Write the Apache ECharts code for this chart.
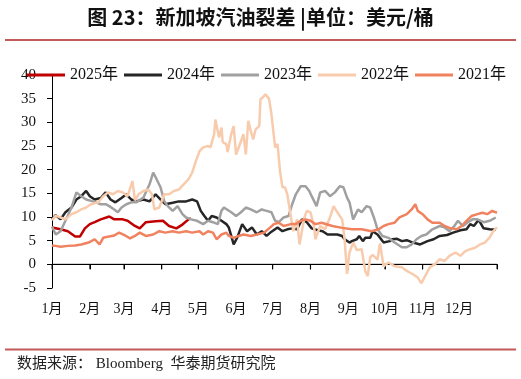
<!DOCTYPE html>
<html><head><meta charset="utf-8">
<script src="https://cdn.jsdelivr.net/npm/echarts@6/dist/echarts.min.js"></script>
<style>html,body{margin:0;padding:0;background:#fff}#c{width:521px;height:379px}</style>
</head><body><div id="c"></div>
<script>
// ---- data ----
const titleText = '图 23：新加坡汽油裂差 |单位：美元/桶';
const sourceText = '数据来源： Bloomberg  华泰期货研究院';
const monthLabels = ['1月','2月','3月','4月','5月','6月','7月','8月','9月','10月','11月','12月'];
const monthStarts = [0,31,59,90,120,151,181,212,243,273,304,334];
const yearDays = 365;
const seriesNames = ['2025年','2024年','2023年','2022年','2021年'];
const yMin = -5, yMax = 40, yStep = 5;

// [day of year, value]
const s2025 = [[0,7.8],[7,7.4],[13,7.0],[19,5.9],[23,5.9],[27,7.6],[31,8.5],[35,8.9],[40,9.5],[47,10.1],[51,9.5],[58,9.5],[62,9.2],[68,8.1],[72,7.6],[77,8.9],[85,9.1],[91,9.2],[96,8.1],[102,7.6],[107,8.4],[112,9.5],[114,9.7]];

const s2024 = [[0,9.5],[3,10.4],[7,9.5],[11,11.0],[16,12.0],[20,13.7],[24,14.4],[28,15.5],[31,14.4],[35,13.7],[40,14.0],[44,15.2],[48,13.7],[52,13.1],[57,14.0],[61,14.8],[65,13.7],[69,13.3],[75,13.7],[80,13.3],[85,14.8],[89,13.7],[93,12.7],[99,13.0],[104,13.3],[110,13.3],[115,13.7],[119,13.3],[122,11.3],[125,10.2],[128,9.2],[131,10.2],[135,9.9],[139,9.2],[143,8.5],[145,7.8],[149,4.2],[152,5.7],[156,8.5],[160,7.0],[164,7.8],[168,6.3],[172,7.0],[176,6.0],[180,6.9],[185,7.8],[189,7.0],[193,7.4],[197,7.6],[201,7.4],[205,9.5],[209,8.9],[213,7.6],[218,7.2],[222,7.0],[226,6.3],[230,6.3],[234,6.3],[238,6.0],[240,5.3],[244,4.6],[246,4.9],[250,5.3],[252,6.0],[255,4.9],[257,5.6],[261,5.6],[263,7.0],[267,6.3],[272,4.6],[277,4.9],[279,5.3],[283,5.4],[287,4.9],[291,5.1],[296,4.6],[302,4.2],[308,4.9],[313,5.3],[318,6.0],[324,6.2],[329,6.7],[335,7.2],[340,7.4],[343,8.5],[346,8.1],[350,9.4],[354,7.6],[359,7.4],[364,7.3]];

const s2023 = [[0,8.0],[3,6.3],[7,7.0],[11,9.2],[16,12.0],[20,15.2],[24,14.4],[28,13.7],[32,13.4],[36,13.1],[40,12.7],[44,12.7],[47,12.3],[51,11.6],[54,11.0],[57,12.0],[61,12.7],[65,13.1],[69,13.1],[75,14.1],[80,16.9],[83,19.4],[85,18.4],[89,16.3],[92,13.4],[95,12.3],[99,11.3],[103,12.3],[107,10.6],[110,9.9],[114,9.5],[119,9.2],[124,8.5],[128,9.2],[132,8.9],[136,8.5],[139,11.3],[141,12.0],[147,11.0],[151,10.2],[155,11.0],[159,12.0],[163,11.6],[168,11.0],[172,11.6],[176,11.3],[180,11.0],[183,9.2],[186,8.9],[190,9.9],[194,10.2],[197,12.7],[200,14.8],[204,16.5],[208,16.5],[211,15.5],[213,14.4],[217,12.3],[220,15.2],[224,15.5],[228,14.4],[232,15.2],[236,16.5],[239,16.3],[242,14.1],[244,13.1],[247,9.5],[251,11.6],[254,11.0],[258,12.3],[261,12.0],[264,9.9],[267,7.4],[271,6.0],[276,5.6],[281,4.6],[287,3.6],[291,3.6],[295,4.2],[299,5.3],[303,6.0],[307,6.3],[312,7.4],[318,8.1],[322,7.8],[326,7.0],[330,8.1],[333,9.2],[337,8.1],[341,8.9],[345,9.5],[349,9.5],[354,8.9],[359,9.2],[364,9.9]];

const s2022 = [[0,9.3],[3,10.3],[7,9.9],[11,9.5],[16,10.6],[20,11.0],[24,11.6],[28,12.0],[32,12.7],[38,13.1],[42,14.4],[46,15.2],[50,14.8],[54,15.5],[58,15.2],[62,14.4],[66,17.6],[68,13.5],[71,14.8],[75,15.5],[79,15.8],[82,14.8],[84,11.6],[88,12.0],[92,14.8],[96,14.8],[100,15.5],[104,15.8],[108,16.9],[112,18.0],[115,19.4],[118,21.8],[121,23.9],[124,24.7],[128,25.0],[130,24.7],[133,27.5],[134,30.6],[137,26.8],[139,28.9],[140,25.8],[143,25.4],[144,23.7],[147,27.5],[149,29.2],[151,23.2],[155,26.0],[157,27.5],[159,23.2],[161,30.3],[163,28.2],[165,26.4],[167,28.5],[170,29.2],[171,34.9],[173,35.3],[175,35.9],[178,35.0],[180,31.7],[183,24.7],[185,25.4],[187,19.7],[189,16.3],[191,16.3],[193,14.8],[196,9.9],[198,7.0],[201,9.5],[203,4.2],[207,9.9],[209,11.3],[212,11.0],[215,7.8],[216,5.3],[220,8.1],[224,7.4],[228,9.9],[231,12.3],[234,11.0],[238,9.5],[240,5.3],[242,-2.0],[244,2.5],[247,4.6],[250,3.0],[254,3.2],[257,-1.5],[259,-2.5],[261,1.5],[263,2.0],[267,1.0],[269,4.4],[272,-0.4],[276,0.4],[281,-0.4],[287,-0.6],[291,-1.4],[296,-2.1],[300,-2.8],[303,-4.0],[306,-2.5],[310,-0.6],[314,0.0],[318,1.1],[322,0.7],[326,1.8],[331,2.5],[335,1.8],[339,2.8],[343,3.2],[347,3.5],[351,4.2],[355,4.6],[359,5.7],[362,7.0],[365,7.8]];

const s2021 = [[0,4.0],[3,3.9],[7,3.7],[13,3.9],[19,4.0],[24,4.2],[30,4.6],[35,5.3],[39,4.2],[42,5.6],[47,5.9],[51,6.1],[55,6.7],[60,6.1],[64,5.5],[68,6.0],[72,6.7],[77,6.0],[83,6.3],[88,7.0],[93,6.7],[99,7.0],[104,6.7],[110,7.0],[115,6.7],[121,7.0],[124,6.3],[128,7.0],[132,6.7],[135,5.3],[139,6.3],[143,6.7],[145,6.0],[149,5.6],[153,6.0],[157,6.3],[163,6.0],[168,6.3],[174,6.7],[179,7.8],[182,8.5],[186,8.8],[190,8.1],[196,8.5],[200,8.5],[204,9.2],[208,9.5],[212,9.2],[216,8.5],[221,8.8],[230,8.1],[238,7.7],[246,7.4],[254,7.4],[262,7.0],[268,7.4],[272,8.1],[276,8.5],[281,8.8],[285,9.9],[291,10.6],[295,11.6],[298,12.7],[300,11.3],[304,10.6],[308,9.5],[312,8.8],[318,8.8],[322,8.1],[326,7.7],[332,7.4],[336,8.1],[340,9.2],[344,10.2],[349,10.6],[353,10.9],[357,10.6],[361,11.3],[365,10.9]];

const seriesData = [s2025, s2024, s2023, s2022, s2021];
const seriesColors = ['#C00000','#262626','#A0A0A0','#F8CBAD','#F0825F'];

// ---- chart ----
const tickPx = 5;
const categories = [];
for (let d = 0; d <= yearDays; d++) categories.push(String(d));
const tickDays = [...monthStarts, yearDays];
const tickSet = new Set(tickDays);
const labelMap = {};
monthStarts.forEach((d, i) => { labelMap[d] = monthLabels[i]; });

const serif = '"Liberation Serif","Times New Roman","Noto Sans CJK SC",serif';
const chart = echarts.init(document.getElementById('c'));

// helper series: zero baseline and month ticks, placed through the axes' scales
const helperSeries = [
  {name: 'zeroBase', type: 'line', data: [[0, 0], [yearDays, 0]], showSymbol: false, silent: true,
   itemStyle: {color: '#000'}, lineStyle: {color: '#000', width: 1}, z: 1},
  {name: 'monthTicks', type: 'scatter', data: tickDays.map(d => [d, 0]), silent: true,
   symbol: 'rect', symbolSize: [1.2, tickPx], symbolOffset: [0, tickPx / 2],
   itemStyle: {color: '#000'}, z: 1}
];
const mainSeries = seriesNames.map((name, k) => ({
  name, type: 'line', data: seriesData[k], showSymbol: false,
  itemStyle: {color: seriesColors[k]},
  lineStyle: {width: 2.5, color: seriesColors[k]}
}));

chart.setOption({
  animation: false,
  backgroundColor: '#fff',
  grid: {left: 52, right: 24, top: 75, bottom: 91},
  legend: {
    data: seriesNames, left: 27, top: 66, padding: 0,
    itemWidth: 38, itemHeight: 3, itemGap: 6, icon: 'rect',
    textStyle: {fontSize: 16, fontFamily: serif, color: '#111', lineHeight: 18}
  },
  xAxis: {
    type: 'category', data: categories, boundaryGap: false,
    axisLine: {show: true, onZero: true, lineStyle: {color: '#000', width: 1}},
    axisTick: {show: true, length: tickPx, interval: (i) => tickSet.has(i), lineStyle: {color: '#000'}},
    axisLabel: {
      interval: (i) => labelMap[i] !== undefined,
      formatter: (v, i) => labelMap[i] || '',
      margin: 14, fontSize: 14, fontFamily: serif, color: '#111'
    },
    splitLine: {show: false}
  },
  yAxis: {
    type: 'value', min: yMin, max: yMax, interval: yStep,
    axisLine: {show: true, lineStyle: {color: '#000', width: 1}},
    axisTick: {show: true, length: tickPx, lineStyle: {color: '#000'}},
    axisLabel: {margin: 16, fontSize: 15, fontFamily: serif, color: '#111'},
    splitLine: {show: false}
  },
  series: helperSeries.concat(mainSeries),
  graphic: [
    {type: 'text', left: 'center', top: 7, style: {text: titleText, fontSize: 20, fontWeight: 'bold', fontFamily: '"Noto Sans CJK SC",sans-serif', fill: '#111'}},
    {type: 'rect', shape: {x: 5, y: 39, width: 511, height: 2}, style: {fill: '#C25B58'}},
    {type: 'rect', shape: {x: 5, y: 348.5, width: 511, height: 2}, style: {fill: '#C25B58'}},
    {type: 'text', left: 17, top: 357, style: {text: sourceText, fontSize: 15, fontFamily: serif, fill: '#222'}}
  ]
});
</script></body></html>
